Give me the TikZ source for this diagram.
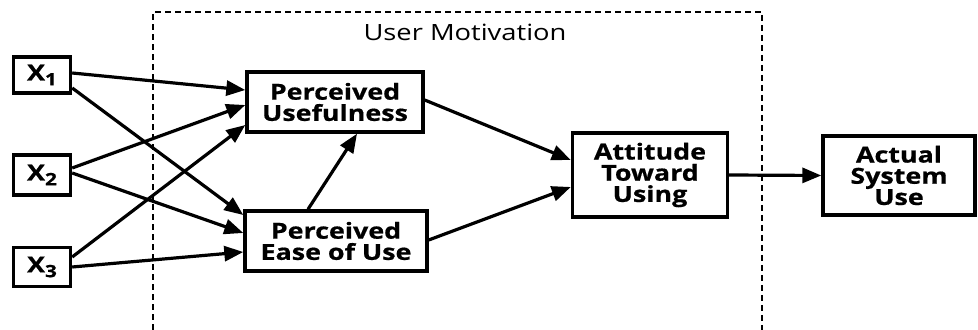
\documentclass[tikz,border=0pt]{standalone}
\usepackage{fontspec}
\usepackage{tikz}
\usetikzlibrary{arrows.meta,calc}
\setmainfont{Open Sans}[FakeStretch=1.22,BoldFeatures={FakeBold=0.7}]
\newcommand{\xvar}[1]{X\raisebox{-2.4pt}{\fontsize{8.5}{8.5}\selectfont #1}}

\begin{document}
\begin{tikzpicture}[x=0.5pt,y=-0.5pt,
  tamvar/.style={draw,line width=1.7pt,inner sep=0pt,align=center,
    font=\bfseries\fontsize{11}{10.6}\selectfont},
  tamarrow/.style={line width=1.6pt,-{Triangle[length=9.5pt,width=7.5pt]}}]
  \useasboundingbox (0,0) rectangle (978,330);
  \draw[line width=0.9pt,dash pattern=on 3pt off 2pt] (153,340) -- (153,12) -- (762,12) -- (762,340);
  \node[font=\fontsize{11.2}{12}\selectfont] (motiv) at (465,32) {User Motivation};
  \node[tamvar,minimum width=28.5pt,minimum height=18pt] (x1) at (42,75) {\xvar{1}};
  \node[tamvar,minimum width=28.5pt,minimum height=20pt] (x2) at (42,175) {\xvar{2}};
  \node[tamvar,minimum width=28.5pt,minimum height=19.5pt] (x3) at (42,267) {\xvar{3}};
  \node[tamvar,minimum width=88pt,minimum height=30pt] (pu) at (335,102) {Perceived\\Usefulness};
  \node[tamvar,minimum width=91pt,minimum height=30pt] (peou) at (336,241) {Perceived\\Ease of Use};
  \node[tamvar,minimum width=77.5pt,minimum height=42pt] (atu) at (650,175) {Attitude\\Toward\\Using};
  \node[tamvar,minimum width=76pt,minimum height=39.5pt] (asu) at (899,175.5) {Actual\\System\\Use};
  \draw[tamarrow] ($(x1.east)+(0,-2)$) -- ($(pu.west)+(0,-12)$);
  \draw[tamarrow] ($(x1.east)+(0,13)$) -- ($(peou.west)+(0,-26)$);
  \draw[tamarrow] ($(x2.east)+(0,-7)$) -- ($(pu.west)+(0,3)$);
  \draw[tamarrow] ($(x2.east)+(0,-2)$) -- ($(peou.west)+(0,-8)$);
  \draw[tamarrow] ($(x3.east)+(0,-10)$) -- ($(pu.west)+(0,23)$);
  \draw[tamarrow] (x3.east) -- ($(peou.west)+(0,11)$);
  \draw[tamarrow] ($(peou.north)+(-28,0)$) -- ($(pu.south)+(22,0)$);
  \draw[tamarrow] ($(pu.east)+(0,-2)$) -- ($(atu.west)+(0,-15)$);
  \draw[tamarrow] ($(peou.east)+(0,-1)$) -- ($(atu.west)+(0,12)$);
  \draw[tamarrow] (atu.east) -- (asu.west);
\end{tikzpicture}
\end{document}
